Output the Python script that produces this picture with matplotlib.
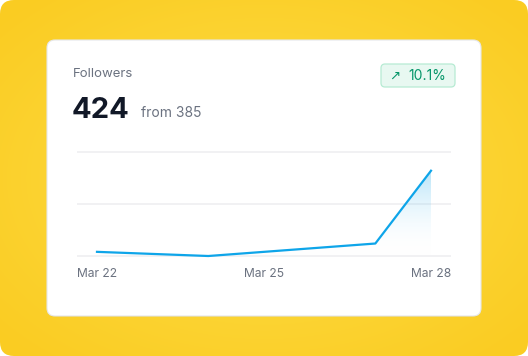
import numpy as np
import matplotlib.pyplot as plt
from matplotlib.patches import FancyBboxPatch, Polygon
from matplotlib.colors import LinearSegmentedColormap

plt.rcParams['font.family'] = ['Inter', 'DejaVu Sans']

days = ["Mar 22", "Mar 23", "Mar 24", "Mar 25", "Mar 26", "Mar 27", "Mar 28"]
followers = [385, 384, 383, 385, 387, 389, 424]
grid_vals = [383, 408, 433]
tick_labels = ["Mar 22", "Mar 25", "Mar 28"]
title = "Followers"
current = "424"
previous = "from 385"
change = "10.1%"

W, H = 528, 356
fig = plt.figure(figsize=(W / 100, H / 100), dpi=100)
fig.patch.set_facecolor("white")


def fx(px):
    return px / W


def fy(py):
    return 1 - py / H


# yellow radial background
bg = fig.add_axes([0, 0, 1, 1])
bg.set_xlim(0, W)
bg.set_ylim(H, 0)
bg.axis("off")
yy, xx = np.mgrid[0:H, 0:W]
r = np.sqrt(((xx - W / 2) / (W / 2)) ** 2 + ((yy - H / 2) / (H / 2)) ** 2)
ycmap = LinearSegmentedColormap.from_list("y", ["#fde35a", "#fcd535", "#facc22"])
im = bg.imshow(np.clip(r / 1.35, 0, 1), cmap=ycmap, vmin=0, vmax=1,
               extent=[0, W, H, 0], interpolation="bilinear", zorder=0)
outer = FancyBboxPatch((0, 0), W, H, boxstyle="round,pad=0,rounding_size=14",
                       transform=bg.transData, facecolor="none", edgecolor="none")
bg.add_patch(outer)
im.set_clip_path(outer)

# card
shadow = FancyBboxPatch((47, 41), 434, 276, boxstyle="round,pad=0,rounding_size=8",
                        facecolor="#d9a800", edgecolor="none", alpha=0.18, zorder=1)
bg.add_patch(shadow)
card = FancyBboxPatch((47, 40), 434, 276, boxstyle="round,pad=0,rounding_size=8",
                      facecolor="white", edgecolor="#e5e7eb", linewidth=0.8, zorder=2)
bg.add_patch(card)

# header texts
bg.text(73, 74, title, fontsize=9.5, color="#6b7280", va="center", ha="left", zorder=3)
bg.text(72, 118, current, fontsize=21, fontweight="bold", color="#111827",
        va="baseline", ha="left", zorder=3)
bg.text(141, 117, previous, fontsize=10, color="#6b7280", va="baseline", ha="left", zorder=3)

badge = FancyBboxPatch((381, 64), 74, 23, boxstyle="round,pad=0,rounding_size=4",
                       facecolor="#e8f8f1", edgecolor="#b7ebd3", linewidth=0.9, zorder=3)
bg.add_patch(badge)
bg.text(395, 76, "\u2197", fontsize=9.5, color="#059669", va="center", ha="center",
        family=["DejaVu Sans"], zorder=4)
bg.text(408, 76, change, fontsize=10, color="#059669", va="center", ha="left", zorder=4)

# chart
ax = fig.add_axes([fx(77), fy(260), fx(451) - fx(77), fy(148) - fy(260)])
ax.set_facecolor("none")
x = np.arange(len(days))
x0 = -20 / (334 / 6)
ax.set_xlim(x0, 6 - x0)
ax.set_ylim(381.08, 434.92)

for g in grid_vals:
    ax.axhline(g, color="#f0f0f2", linewidth=1.3, zorder=1)

ax.plot(x, followers, color="#0ea5e9", linewidth=1.6, solid_joinstyle="round", zorder=3)

# gradient fill under line
poly = Polygon(np.column_stack([np.r_[x, x[-1], x[0]],
                                np.r_[followers, grid_vals[0], grid_vals[0]]]),
               closed=True, facecolor="none", edgecolor="none")
ax.add_patch(poly)
gcmap = LinearSegmentedColormap.from_list("b", [(1, 1, 1, 0), (0.055, 0.647, 0.914, 0.3)])
grad = np.linspace(0, 1, 256).reshape(-1, 1)
gim = ax.imshow(grad, cmap=gcmap, aspect="auto", origin="lower",
                extent=[x[0], x[-1], grid_vals[0], max(followers)], zorder=2)
gim.set_clip_path(poly)
ax.set_xlim(x0, 6 - x0)
ax.set_ylim(381.08, 434.92)

ax.set_xticks([x0, 3, 6 - x0])
ax.set_xticklabels(tick_labels)
for lab, ha in zip(ax.get_xticklabels(), ["left", "center", "right"]):
    lab.set_ha(ha)
ax.tick_params(axis="x", length=0, pad=6, labelsize=8.7, labelcolor="#6b7280")
ax.set_yticks([])
for s in ax.spines.values():
    s.set_visible(False)

fig.savefig("out.png", dpi=100)
